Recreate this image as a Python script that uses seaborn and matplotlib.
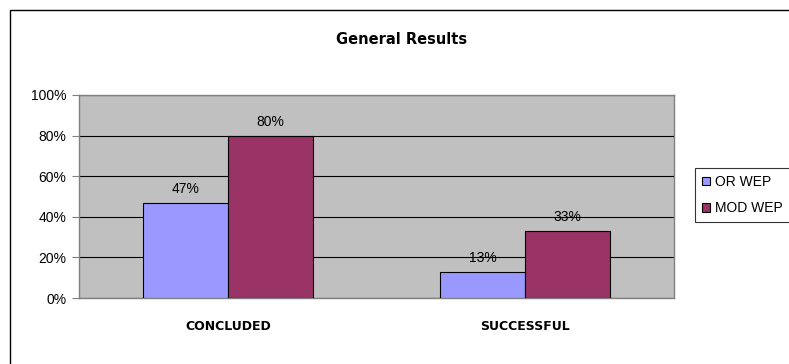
import matplotlib
matplotlib.use("Agg")
import matplotlib.pyplot as plt
import seaborn as sns
import pandas as pd
from matplotlib.patches import Rectangle
from matplotlib.ticker import FuncFormatter

categories = ["CONCLUDED", "SUCCESSFUL"]
series = ["OR WEP", "MOD WEP"]
or_wep = [47, 13]
mod_wep = [80, 33]
yticks = [0, 20, 40, 60, 80, 100]
colors = ["#9999FF", "#993366"]

df = pd.DataFrame({
    "cat": categories * 2,
    "series": [series[0]] * 2 + [series[1]] * 2,
    "value": or_wep + mod_wep,
})

sns.set_style("white")
plt.rcParams["font.family"] = ["Liberation Sans", "DejaVu Sans"]
plt.rcParams["text.color"] = "black"
plt.rcParams["xtick.color"] = "black"
plt.rcParams["ytick.color"] = "black"
plt.rcParams["xtick.labelcolor"] = "black"
plt.rcParams["ytick.labelcolor"] = "black"

fig = plt.figure(figsize=(7.89, 3.64), dpi=100)
ax = fig.add_axes([79 / 789, 1 - 298 / 364, 595 / 789, 203 / 364])

sns.barplot(data=df, x="cat", y="value", hue="series", order=categories,
            hue_order=series, palette=colors, width=0.572,
            edgecolor="black", linewidth=0.8, saturation=1, ax=ax, zorder=3)

ax.set_facecolor("#C0C0C0")
ax.set_xlim(-0.5, 1.5)
ax.set_ylim(0, 100)
ax.set_yticks(yticks)
ax.yaxis.set_major_formatter(FuncFormatter(lambda v, p: f"{int(v)}%"))
ax.grid(axis="y", color="black", linewidth=0.8, zorder=1)
ax.set_axisbelow(True)
for s in ax.spines.values():
    s.set_color("#808080")
    s.set_linewidth(1)
ax.tick_params(axis="y", direction="out", length=5, width=0.8, color="#808080",
               labelsize=10, pad=4, left=True, labelcolor="black")
ax.tick_params(axis="x", length=0, pad=16, labelcolor="black")
for lab in ax.get_xticklabels():
    lab.set_fontweight("bold")
    lab.set_fontsize(9)
    lab.set_family(["DejaVu Sans"])
ax.set_xlabel("")
ax.set_ylabel("")

for cont in ax.containers:
    ax.bar_label(cont, labels=[f"{int(round(v))}%" for v in cont.datavalues],
                 padding=5, fontsize=10, color="black")

ax.get_legend().remove()
handles = [Rectangle((0, 0), 1, 1, facecolor=c, edgecolor="black", linewidth=0.8)
           for c in colors]
lg = fig.legend(handles, series, loc="upper left",
                bbox_to_anchor=(695 / 789, 1 - 168 / 364), frameon=True,
                fancybox=False, edgecolor="black", fontsize=10,
                handlelength=0.6, handleheight=0.6, handletextpad=0.35,
                borderpad=0.5, labelspacing=0.9, borderaxespad=0)
lg.get_frame().set_linewidth(0.8)

fig.text(402 / 789, 1 - 40 / 364, "General Results", ha="center", va="center",
         fontsize=10.5, fontweight="bold", family=["DejaVu Sans"], color="black")

fig.patches.append(Rectangle((10 / 789, -0.05), 1.0, 1 - 10 / 364 + 0.05,
                             transform=fig.transFigure, fill=False,
                             edgecolor="black", linewidth=1, clip_on=False))

fig.savefig("out.png", dpi=100)
